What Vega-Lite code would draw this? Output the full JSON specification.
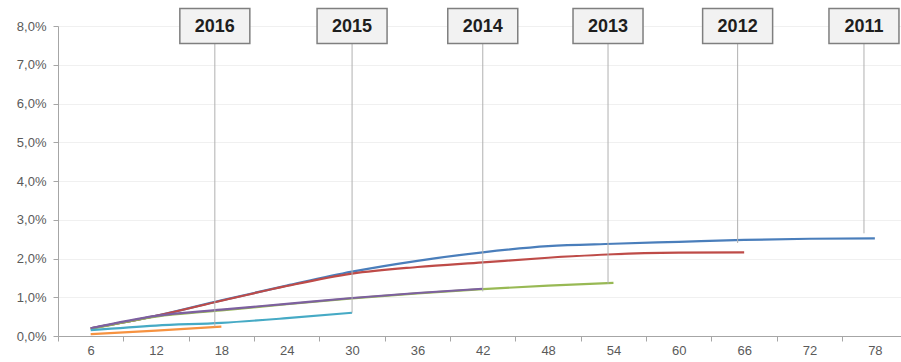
{
  "$schema": "https://vega.github.io/schema/vega-lite/v6.json",
  "width": 843,
  "height": 310,
  "autosize": "none",
  "padding": {"left": 58, "top": 26, "right": 0, "bottom": 26},
  "background": "white",
  "config": {
    "view": {"stroke": null},
    "font": "Liberation Sans",
    "axis": {
      "labelFont": "Liberation Sans",
      "labelFontSize": 13,
      "labelColor": "#5a5a5a",
      "domainColor": "#a6a6a6",
      "tickColor": "#a6a6a6",
      "tickSize": 5,
      "title": null
    }
  },
  "datasets": {
    "series": [
      {"year": "2011", "month": 6, "rate": 0.0020},
      {"year": "2011", "month": 12, "rate": 0.0052},
      {"year": "2011", "month": 18, "rate": 0.0092},
      {"year": "2011", "month": 24, "rate": 0.0130},
      {"year": "2011", "month": 30, "rate": 0.0166},
      {"year": "2011", "month": 36, "rate": 0.0194},
      {"year": "2011", "month": 42, "rate": 0.0216},
      {"year": "2011", "month": 48, "rate": 0.0232},
      {"year": "2011", "month": 54, "rate": 0.0238},
      {"year": "2011", "month": 60, "rate": 0.0243},
      {"year": "2011", "month": 66, "rate": 0.0248},
      {"year": "2011", "month": 72, "rate": 0.0251},
      {"year": "2011", "month": 78, "rate": 0.0252},
      {"year": "2012", "month": 6, "rate": 0.0020},
      {"year": "2012", "month": 12, "rate": 0.0052},
      {"year": "2012", "month": 18, "rate": 0.0091},
      {"year": "2012", "month": 24, "rate": 0.0129},
      {"year": "2012", "month": 30, "rate": 0.0161},
      {"year": "2012", "month": 36, "rate": 0.0178},
      {"year": "2012", "month": 42, "rate": 0.0190},
      {"year": "2012", "month": 48, "rate": 0.0202},
      {"year": "2012", "month": 54, "rate": 0.0211},
      {"year": "2012", "month": 60, "rate": 0.0215},
      {"year": "2012", "month": 66, "rate": 0.0216},
      {"year": "2013", "month": 6, "rate": 0.0018},
      {"year": "2013", "month": 12, "rate": 0.0050},
      {"year": "2013", "month": 18, "rate": 0.0066},
      {"year": "2013", "month": 24, "rate": 0.0082},
      {"year": "2013", "month": 30, "rate": 0.0097},
      {"year": "2013", "month": 36, "rate": 0.0110},
      {"year": "2013", "month": 42, "rate": 0.0121},
      {"year": "2013", "month": 48, "rate": 0.0130},
      {"year": "2013", "month": 54, "rate": 0.0137},
      {"year": "2014", "month": 6, "rate": 0.0020},
      {"year": "2014", "month": 12, "rate": 0.0052},
      {"year": "2014", "month": 18, "rate": 0.0068},
      {"year": "2014", "month": 24, "rate": 0.0083},
      {"year": "2014", "month": 30, "rate": 0.0098},
      {"year": "2014", "month": 36, "rate": 0.0111},
      {"year": "2014", "month": 42, "rate": 0.0122},
      {"year": "2015", "month": 6, "rate": 0.0015},
      {"year": "2015", "month": 12, "rate": 0.0027},
      {"year": "2015", "month": 18, "rate": 0.0034},
      {"year": "2015", "month": 24, "rate": 0.0046},
      {"year": "2015", "month": 30, "rate": 0.0060},
      {"year": "2016", "month": 6, "rate": 0.0005},
      {"year": "2016", "month": 12, "rate": 0.0014},
      {"year": "2016", "month": 18, "rate": 0.0024}
    ],
    "annotations": [
      {"year": "2016", "month": 17.4, "rate": 0.0024},
      {"year": "2015", "month": 30, "rate": 0.0060},
      {"year": "2014", "month": 42, "rate": 0.0115},
      {"year": "2013", "month": 53.5, "rate": 0.0135},
      {"year": "2012", "month": 65.4, "rate": 0.0240},
      {"year": "2011", "month": 77, "rate": 0.0265}
    ]
  },
  "layer": [
    {
      "data": {"name": "series"},
      "mark": {"type": "line", "strokeWidth": 2.2, "interpolate": "monotone"},
      "encoding": {
        "x": {
          "field": "month", "type": "quantitative",
          "scale": {"domain": [3, 80.4], "nice": false, "zero": false},
          "axis": {
            "values": [6, 12, 18, 24, 30, 36, 42, 48, 54, 60, 66, 72, 78],
            "ticks": false, "grid": false, "domain": true, "orient": "bottom",
            "labelPadding": 8, "labelFlush": false
          }
        },
        "y": {
          "field": "rate", "type": "quantitative",
          "scale": {"domain": [0, 0.08], "nice": false},
          "axis": {
            "values": [0, 0.01, 0.02, 0.03, 0.04, 0.05, 0.06, 0.07, 0.08],
            "labelExpr": "replace(format(datum.value, '.1%'), '.', ',')",
            "grid": true, "gridColor": "#f0f0f0", "ticks": true,
            "labelPadding": 7, "domain": true, "orient": "left"
          }
        },
        "color": {
          "field": "year", "type": "nominal",
          "scale": {
            "domain": ["2011", "2012", "2013", "2014", "2015", "2016"],
            "range": ["#4A7EBB", "#BE4B48", "#98B954", "#7D60A0", "#46AAC5", "#F69240"]
          },
          "legend": null
        }
      }
    },
    {
      "data": {"name": "annotations"},
      "mark": {"type": "rule", "color": "#b0b0b0", "strokeWidth": 1},
      "encoding": {
        "x": {
          "field": "month", "type": "quantitative",
          "axis": {
            "values": [3, 9, 15, 21, 27, 33, 39, 45, 51, 57, 63, 69, 75],
            "labels": false, "ticks": true, "domain": false, "grid": false, "orient": "bottom"
          }
        },
        "y": {"field": "rate", "type": "quantitative", "axis": null},
        "y2": {"datum": 0.08}
      }
    },
    {
      "data": {"name": "annotations"},
      "mark": {
        "type": "point",
        "shape": "M-1,-0.5H1V0.5H-1Z",
        "size": 4900,
        "filled": true,
        "fill": "#f2f2f2",
        "stroke": "#7f7f7f",
        "strokeWidth": 1.5,
        "opacity": 1
      },
      "encoding": {
        "x": {"field": "month", "type": "quantitative", "axis": null},
        "y": {"datum": 0.08, "type": "quantitative", "axis": null}
      }
    },
    {
      "data": {"name": "annotations"},
      "mark": {
        "type": "text",
        "font": "Liberation Sans",
        "fontWeight": "bold",
        "fontSize": 18,
        "color": "#1e1e1e",
        "baseline": "middle",
        "align": "center",
        "dy": 1
      },
      "encoding": {
        "x": {"field": "month", "type": "quantitative", "axis": null},
        "y": {"datum": 0.08, "type": "quantitative", "axis": null},
        "text": {"field": "year"}
      }
    }
  ],
  "resolve": {"axis": {"x": "independent", "y": "independent"}}
}
